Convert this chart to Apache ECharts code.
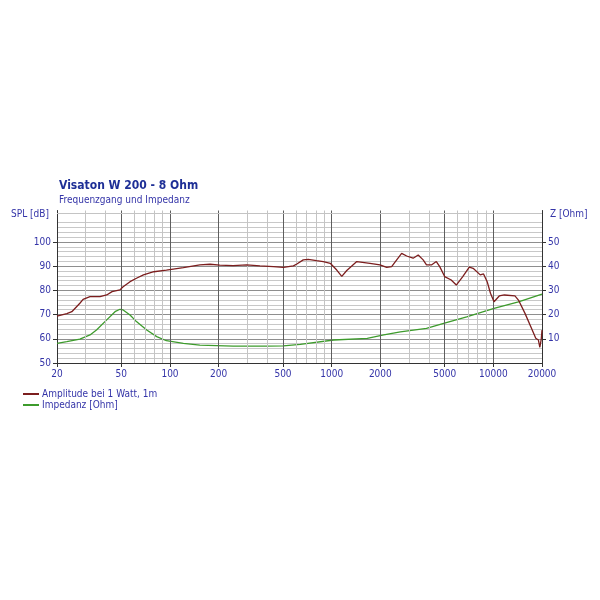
<!DOCTYPE html>
<html>
<head>
<meta charset="utf-8">
<script src="https://cdn.jsdelivr.net/npm/echarts@6/dist/echarts.min.js"></script>
<style>html,body{margin:0;padding:0;background:#fff}#c{width:600px;height:600px}</style>
</head>
<body>
<div id="c"></div>
<script>
const splFreq = [20,23,24.7,27.7,29,32,36.9,40.6,43.8,49,51.3,56.6,62,68.5,79.5,95,121,153,177,203,246,298,360,436,503,580,609,667,716,806,887,980,1075,1155,1240,1430,1726,1990,2190,2350,2525,2710,2910,3190,3430,3680,3860,4140,4440,4660,5000,5490,5900,6470,7100,7500,8300,8700,9160,9600,10100,10880,11700,13600,14300,15700,17400,18300,19000,19400,19800,20000];
const splVal = [69.4,70.4,71.2,74.7,76.3,77.4,77.4,78.1,79.5,80.2,81.5,83.6,85,86.4,87.7,88.4,89.4,90.5,90.8,90.4,90.2,90.5,90.1,89.8,89.5,90.1,90.9,92.6,92.8,92.3,91.9,91.2,88.4,85.8,88.2,91.9,91.2,90.5,89.5,89.8,92.6,95.3,94.2,93.3,94.6,92.6,90.5,90.5,91.9,89.8,85.7,84.3,82.2,85.7,89.6,89.1,86.4,86.8,83.6,78.8,75.3,77.7,78.1,77.7,76,70.5,63.6,60.2,59.5,56.5,60,63.6];
const impFreq = [20,23,27.7,32,35.1,40.6,45.7,49,51.3,56.6,62,71.8,82.8,95,121,153,246,396,502,640,1030,1660,2100,2660,3860,4930,6840,10100,14300,20000];
const impVal = [8.1,8.8,9.9,11.6,13.6,17.8,21.2,22.2,21.9,19.8,17.1,13.6,10.9,9.2,8.1,7.4,7.0,7.0,7.1,7.7,9.5,10.2,11.6,12.9,14.3,16.4,19.1,22.6,25.3,28.5];
const xTickLabels = [20,50,100,200,500,1000,2000,5000,10000,20000];
const splTickLabels = [50,60,70,80,90,100];
const impTickLabels = [10,20,30,40,50];
const majorGridFreqs = [50,100,200,500,1000,2000,5000,10000];
const minorGridFreqs = [30,40,60,70,80,90,300,400,600,700,800,900,3000,4000,6000,7000,8000,9000];
const extraHLines = [112];

const blue = '#3434a8';
const font = 'DejaVu Sans Condensed';
const chart = echarts.init(document.getElementById('c'));
const zip = (a, b) => a.map((v, i) => [v, b[i]]);

const gridMarks = []
  .concat(minorGridFreqs.map(f => ({xAxis: f, lineStyle: {color: '#c4c4c4', width: 1, type: 'solid'}})))
  .concat(majorGridFreqs.map(f => ({xAxis: f, lineStyle: {color: '#5e5e5e', width: 1, type: 'solid'}})))
  .concat(extraHLines.map(v => ({yAxis: v, lineStyle: {color: '#c4c4c4', width: 1, type: 'solid'}})));

chart.setOption({
  animation: false,
  title: {
    text: 'Visaton W 200 - 8 Ohm',
    subtext: 'Frequenzgang und Impedanz',
    left: 54, top: 175, itemGap: 3,
    textStyle: {fontFamily: font, fontSize: 12, fontWeight: 'bold', color: '#1e2f96'},
    subtextStyle: {fontFamily: font, fontSize: 10, color: blue}
  },
  legend: {
    orient: 'vertical', left: 18, top: 384, itemWidth: 16, itemHeight: 2, itemGap: 1,
    icon: 'rect',
    textStyle: {fontFamily: font, fontSize: 10, color: blue, padding: [0,0,0,-2]},
    data: ['Amplitude bei 1 Watt, 1m', 'Impedanz [Ohm]']
  },
  grid: {left: 57, right: 58, top: 210.5, bottom: 237, containLabel: false},
  xAxis: {
    type: 'log', logBase: 10, min: 20, max: 20000,
    axisLine: {show: true, lineStyle: {color: '#333', width: 1}},
    axisTick: {show: true, inside: false, length: 4, customValues: xTickLabels, lineStyle: {color: '#333'}},
    axisLabel: {customValues: xTickLabels, fontFamily: font, fontSize: 10, color: blue, margin: 6, formatter: v => String(Math.round(v))},
    splitLine: {show: false},
    minorTick: {show: false}, minorSplitLine: {show: false}
  },
  yAxis: [
    {
      type: 'value', min: 50, max: 113, interval: 10, name: 'SPL [dB]',
      nameLocation: 'end', nameGap: -4,
      nameTextStyle: {fontFamily: font, fontSize: 10, color: blue, align: 'right', verticalAlign: 'middle', padding: [0, 8, 0, 0]},
      axisLine: {show: true, lineStyle: {color: '#333'}},
      axisTick: {show: true, length: 4, customValues: splTickLabels, lineStyle: {color: '#333'}},
      axisLabel: {customValues: splTickLabels, fontFamily: font, fontSize: 10, color: blue, margin: 6},
      splitLine: {show: true, lineStyle: {color: '#8e8e8e', width: 1}},
      minorTick: {show: false, splitNumber: 5},
      minorSplitLine: {show: true, lineStyle: {color: '#c8c8c8', width: 1}}
    },
    {
      type: 'value', min: 0, max: 63, interval: 10, name: 'Z [Ohm]', position: 'right',
      nameLocation: 'end', nameGap: -4,
      nameTextStyle: {fontFamily: font, fontSize: 10, color: blue, align: 'left', verticalAlign: 'middle', padding: [0, 0, 0, 8]},
      axisLine: {show: true, lineStyle: {color: '#333'}},
      axisTick: {show: true, length: 4, customValues: impTickLabels, lineStyle: {color: '#333'}},
      axisLabel: {customValues: impTickLabels, fontFamily: font, fontSize: 10, color: blue, margin: 6},
      splitLine: {show: false}
    }
  ],
  series: [
    {
      name: 'gridlines', type: 'line', data: [], xAxisIndex: 0, yAxisIndex: 0, z: 1, silent: true,
      markLine: {silent: true, symbol: ['none', 'none'], label: {show: false}, animation: false, data: gridMarks}
    },
    {
      name: 'Amplitude bei 1 Watt, 1m', type: 'line', yAxisIndex: 0, z: 5,
      data: zip(splFreq, splVal), showSymbol: false, symbol: 'none',
      lineStyle: {color: '#7c1e1e', width: 1.3}, itemStyle: {color: '#7c1e1e'}
    },
    {
      name: 'Impedanz [Ohm]', type: 'line', yAxisIndex: 1, z: 4,
      data: zip(impFreq, impVal), showSymbol: false, symbol: 'none',
      lineStyle: {color: '#3d9b2c', width: 1.3}, itemStyle: {color: '#3d9b2c'}
    }
  ]
});
</script>
</body>
</html>
